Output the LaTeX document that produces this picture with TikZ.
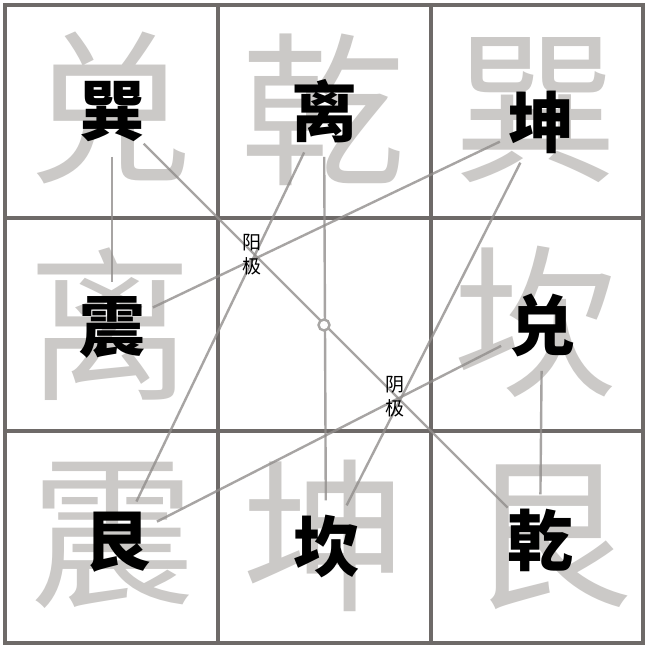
\documentclass[tikz,border=0pt]{standalone}
\usepackage{fontspec}
\usepackage{xcolor}
\newfontfamily\cjk{Noto Sans CJK SC}
\definecolor{gridgray}{HTML}{6E6A68}
\definecolor{ghostgray}{HTML}{CBC9C7}
\definecolor{linkgray}{HTML}{918E8C}
\pgfdeclarelayer{back}
\pgfsetlayers{back,main}

\begin{document}
\begin{tikzpicture}[x=1pt, y=-1pt,
	ghost/.style={text=ghostgray, inner sep=0, font=\cjk\fontsize{165}{165}\selectfont},
	gua/.style={circle, inner sep=0, minimum size=44, text=black, font=\cjk\bfseries\fontsize{66}{66}\selectfont},
	pole/.style={align=center, inner sep=0, font=\cjk\fontsize{19}{24}\selectfont},
	grid/.style={draw=gridgray, line width=4.5},
	link/.style={draw=linkgray, line width=2.4, opacity=0.8}]

		\newcommand{\lo}{5}
		\newcommand{\hi}{643}
		\useasboundingbox (0,0) rectangle (649,650);

	\begin{pgfonlayer}{back}
		\fill[white] (0,0) rectangle (649,650);
		
		% xiantian order, in grey
		\node[ghost] (bgdui) at (110,108) {兑};
		\node[ghost] (bgqian) at (323,110) {乾};
		\node[ghost] (bgxun) at (536,110) {巽};
		\node[ghost] (bgli) at (110,324) {离};
		\node[ghost] (bgkan) at (536,322) {坎};
		\node[ghost] (bgzhen) at (113,535) {震};
		\node[ghost] (bgkun) at (325,536) {坤};
		\node[ghost] (bggen) at (550,537) {艮};
		
		\draw[grid] (\lo,\lo) rectangle (\hi,\hi);
		\foreach \k in {218,431}{
			\draw[grid] (\k,\lo) -- (\k,\hi);
			\draw[grid] (\lo,\k) -- (\hi,\k);
		}
	\end{pgfonlayer}

	% houtian order
	\node[gua] (xun) at (112,112) {巽};
	\node[gua] (li) at (324,111) {离};
	\node[gua] (kun) at (541,122) {坤};
	\node[gua] (zhen) at (112,327) {震};
	\node[gua] (dui) at (542,325) {兑};
	\node[gua] (gen) at (117,542) {艮};
	\node[gua] (kan) at (326,546) {坎};
	\node[gua] (qian) at (540,540) {乾};

	\begin{pgfonlayer}{back}
		\draw[link] (xun) -- (zhen);
		\draw[link] (xun) -- (qian);
		\draw[link] (li) -- (kan);
		\draw[link] (li) -- (gen);
		\draw[link] (zhen) -- (kun);
		\draw[link] (kun) -- (kan);
		\draw[link] (dui) -- (gen);
		\draw[link] (dui) -- (qian);
	\end{pgfonlayer}

	\node[circle, draw=linkgray!80, fill=white, line width=2.4, minimum size=11, inner sep=0] (taiji) at (324,325) {};
	
	\node[pole] (yangji) at (252,255) {阳\\极};
	\node[pole] (yinji) at (395,397) {阴\\极};
\end{tikzpicture}
\end{document}
